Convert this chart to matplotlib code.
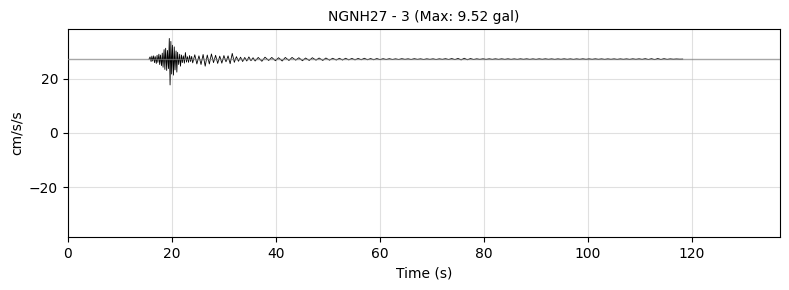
import numpy as np
import matplotlib
matplotlib.use("Agg")
import matplotlib.pyplot as plt

station = "NGNH27 - 3"
max_gal = 9.52
baseline = 27.2   # constant offset of the record (cm/s/s)
t_end = 136.9

# strong motion part: peak times (s) and amplitudes about the baseline
strong_t = [15.6, 15.8, 16.0, 16.15, 16.3, 16.5, 16.65, 16.8, 17.0, 17.15, 17.3, 17.5,
            17.65, 17.8, 18.0, 18.15, 18.3, 18.5, 18.65, 18.8, 19.0, 19.15, 19.35,
            19.5, 19.65, 19.8, 19.95, 20.1, 20.3, 20.45, 20.6, 20.8, 20.95, 21.1,
            21.3, 21.5, 21.65, 21.85, 22.0, 22.2, 22.4, 22.6, 22.8, 23.0, 23.2,
            23.4, 23.6, 23.8, 24.0]
strong_v = [0.0, 0.8, -0.9, 1.1, -0.7, 1.2, -1.3, 0.9, -1.6, 1.4, -1.2, 1.8,
            -2.0, 1.5, -2.4, 2.2, -3.0, 3.5, -3.8, 4.0, -4.2, 3.2, -3.5,
            7.6, -9.52, 6.5, -5.5, 5.1, -5.9, 4.5, -4.0, 3.0, -4.8, 2.5,
            -2.0, 1.8, -2.6, 1.5, -1.3, 1.2, -1.5, 2.4, -1.1, 0.9, -1.2,
            1.3, -0.9, 1.0, -1.4]

# coda
coda_t = [24.4, 24.8, 25.2, 25.6, 26.0, 26.4, 26.8, 27.2, 27.6, 28.0, 28.4, 28.8,
          29.2, 29.6, 30.0, 30.4, 30.8, 31.2, 31.6, 32.0, 32.4, 32.8, 33.2, 33.6,
          34.0, 34.4, 34.8, 35.2, 35.6, 36.0, 36.6, 37.3, 37.9, 38.6, 39.2, 39.9,
          40.5, 41.2, 41.8, 42.5, 43.1, 43.8, 44.4, 45.1, 45.7, 46.4, 47.0, 47.7,
          48.3, 49.0, 49.6, 50.3, 50.9, 51.6]
coda_v = [1.6, -1.8, 1.2, -2.0, 1.7, -2.6, 1.5, -1.8, 1.9, -1.3, 1.4, -1.6,
          1.1, -1.5, 1.3, -1.0, 1.2, -1.7, 2.1, -1.2, 0.9, -0.8, 0.7, -0.9,
          0.6, -0.7, 0.8, -0.6, 0.5, -0.7, 0.6, -0.8, 0.7, -0.5, 0.6, -0.6,
          0.5, -0.7, 0.6, -0.5, 0.6, -0.4, 0.5, -0.6, 0.4, -0.5, 0.5, -0.4,
          0.4, -0.5, 0.4, -0.4, 0.3, -0.35]

# late tail (almost hidden by the baseline)
tail_t = [52.2, 52.8, 53.4, 54.0, 54.6, 55.2, 55.8, 56.4, 57.0, 57.6,
          58.2, 58.8, 59.4, 60.0, 60.6, 61.2, 61.8, 62.4, 63.0, 63.6,
          64.2, 64.8, 65.4, 66.0, 66.6, 67.2, 67.8, 68.4, 69.0, 69.6,
          70.2, 70.8, 71.4, 72.0, 72.6, 73.2, 73.8, 74.4, 75.0, 75.6,
          76.2, 76.8, 77.4, 78.0, 78.6, 79.2, 79.8, 80.4, 81.0, 81.6,
          82.2, 82.8, 83.4, 84.0, 84.6, 85.2, 85.8, 86.4, 87.0, 87.6,
          88.2, 88.8, 89.4, 90.0, 90.6, 91.2, 91.8, 92.4, 93.0, 93.6,
          94.2, 94.8, 95.4, 96.0, 96.6, 97.2, 97.8, 98.4, 99.0, 99.6,
          100.2, 100.8, 101.4, 102.0, 102.6, 103.2, 103.8, 104.4, 105.0, 105.6,
          106.2, 106.8, 107.4, 108.0, 108.6, 109.2, 109.8, 110.4, 111.0, 111.6,
          112.2, 112.8, 113.4, 114.0, 114.6, 115.2, 115.8, 116.4, 117.0, 117.6,
          118.2]
tail_v = [0.3, -0.35, 0.3, -0.3, 0.25, -0.3, 0.25, -0.25, 0.3, -0.25,
          0.2, -0.25, 0.2, -0.2, 0.15, -0.15, 0.15, -0.15, 0.1, -0.15,
          0.15, -0.1, 0.1, -0.15, 0.15, -0.1, 0.1, -0.15, 0.1, -0.1,
          0.1, -0.15, 0.1, -0.1, 0.15, -0.15, 0.2, -0.2, 0.25, -0.3,
          0.3, -0.25, 0.2, -0.15, 0.1, -0.1, 0.1, -0.1, 0.1, -0.1,
          0.1, -0.1, 0.1, -0.1, 0.1, -0.1, 0.08, -0.1, 0.1, -0.08,
          0.1, -0.1, 0.08, -0.1, 0.1, -0.08, 0.1, -0.08, 0.08, -0.1,
          0.08, -0.08, 0.1, -0.08, 0.08, -0.1, 0.08, -0.08, 0.1, -0.08,
          0.08, -0.08, 0.1, -0.08, 0.08, -0.1, 0.08, -0.08, 0.08, -0.1,
          0.08, -0.08, 0.08, -0.1, 0.1, -0.08, 0.1, -0.1, 0.15, -0.15,
          0.15, -0.2, 0.2, -0.15, 0.15, -0.1, 0.08, -0.05, 0.05, -0.03,
          0.0]

t = np.array(strong_t + coda_t + tail_t)
acc = baseline + np.array(strong_v + coda_v + tail_v)

fig = plt.figure(figsize=(7.89, 2.9), dpi=100)
ax = fig.add_axes([0.086, 0.183, 0.9026, 0.717])
ax.plot(t, acc, color="black", lw=0.6, zorder=2)
ax.axhline(baseline, color="gray", lw=1, alpha=0.7, zorder=3)

lim = 1.1 * np.max(np.abs(acc))
ax.set_ylim(-lim, lim)
ax.set_xlim(0, t_end)
ax.grid(True, color="#cccccc", alpha=0.6, lw=0.8)
ax.set_xlabel("Time (s)")
ax.set_ylabel("cm/s/s")
ax.set_title(f"{station} (Max: {max_gal} gal)", fontsize=10)

fig.savefig("out.png", dpi=100)
